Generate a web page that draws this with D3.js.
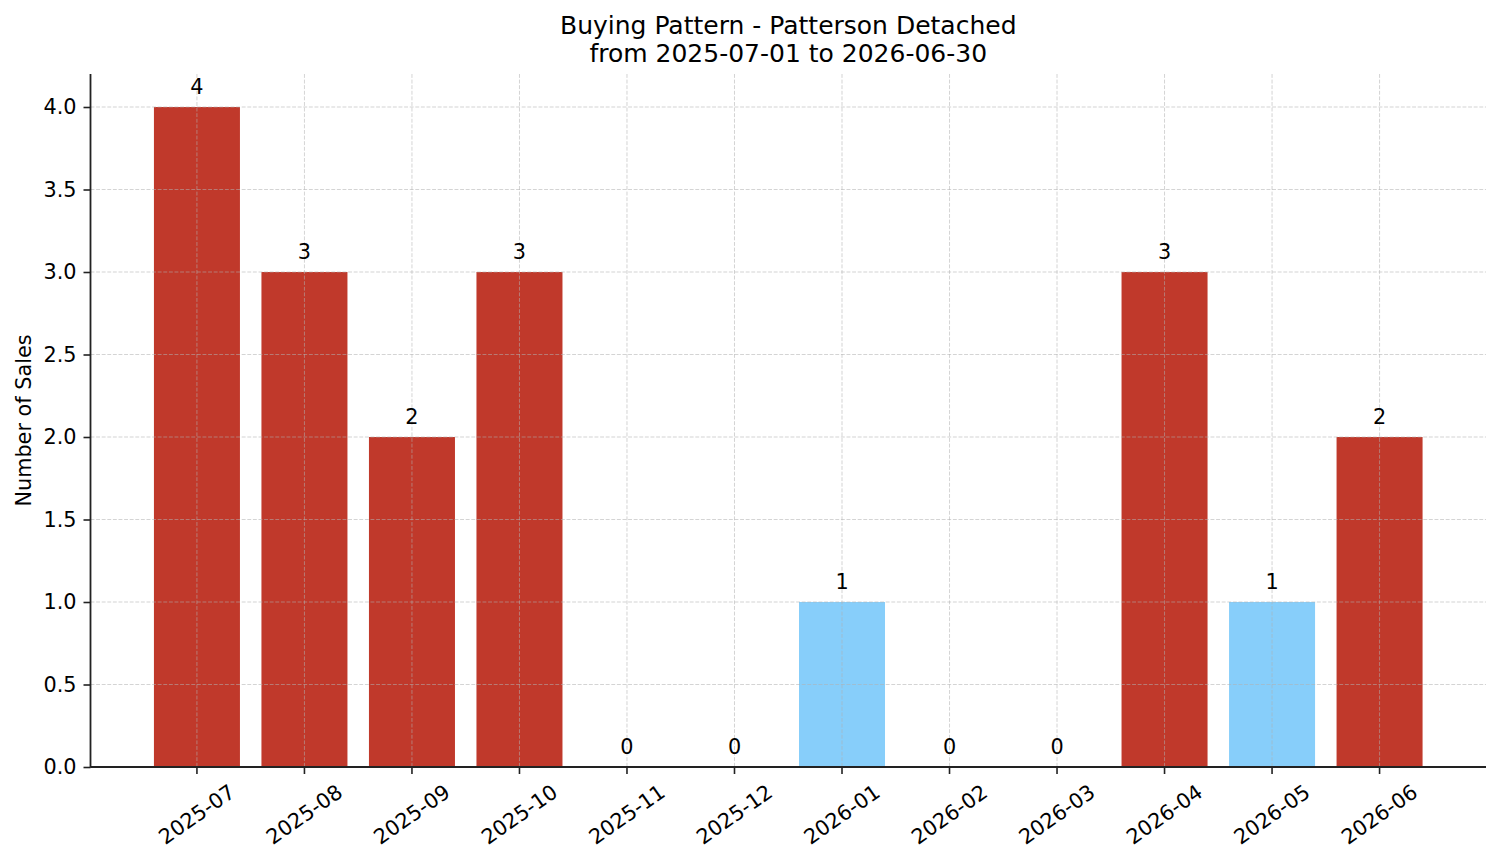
<!DOCTYPE html>
<html>
<head>
<meta charset="utf-8">
<script src="https://cdn.jsdelivr.net/npm/d3@7"></script>
<style>
  body { margin: 0; background: #fff; }
  text { font-family: "DejaVu Sans", sans-serif; fill: #000; }
</style>
</head>
<body>
<div id="chart"></div>
<script>
// chart data
const months = ["2025-07", "2025-08", "2025-09", "2025-10", "2025-11", "2025-12",
                "2026-01", "2026-02", "2026-03", "2026-04", "2026-05", "2026-06"];
const sales = [4, 3, 2, 3, 0, 0, 1, 0, 0, 3, 1, 2];
const yTicks = [0, 0.5, 1, 1.5, 2, 2.5, 3, 3.5, 4];
const titleLines = ["Buying Pattern - Patterson Detached", "from 2025-07-01 to 2026-06-30"];

const width = 1501, height = 863;
const plot = {left: 90.5, right: 1486, top: 74, bottom: 767};

const svg = d3.select("#chart").append("svg")
    .attr("width", width)
    .attr("height", height);

// scales
const xScale = d3.scaleLinear()
    .domain([-0.99, months.length - 1 + 0.99])
    .range([plot.left, plot.right]);
const yScale = d3.scaleLinear()
    .domain([0, 4.2])
    .range([plot.bottom, plot.top]);
const barW = xScale(0.4) - xScale(-0.4);

// bar colour: strong months in red, weak ones in blue
const barColor = v => v >= 2 ? "#c0392b" : "#87cefa";

// bars
svg.append("g").selectAll("rect")
    .data(sales)
    .enter()
    .append("rect")
    .attr("x", (d, i) => xScale(i) - barW / 2)
    .attr("y", d => yScale(d))
    .attr("width", barW)
    .attr("height", d => yScale(0) - yScale(d))
    .attr("fill", barColor);

// grid on top of bars
const grid = svg.append("g")
    .attr("stroke", "#b0b0b0")
    .attr("stroke-opacity", 0.55)
    .attr("stroke-width", 1)
    .attr("stroke-dasharray", "3.9,1.7");
grid.selectAll(".gy")
    .data(yTicks)
    .enter().append("line")
    .attr("x1", plot.left).attr("x2", plot.right)
    .attr("y1", d => yScale(d)).attr("y2", d => yScale(d));
grid.selectAll(".gx")
    .data(months)
    .enter().append("line")
    .attr("x1", (d, i) => xScale(i)).attr("x2", (d, i) => xScale(i))
    .attr("y1", plot.top).attr("y2", plot.bottom);

// y axis
const yAxis = d3.axisLeft(yScale)
    .tickValues(yTicks)
    .tickFormat(d3.format(".1f"))
    .tickSize(7)
    .tickPadding(7);
const gy = svg.append("g")
    .attr("transform", `translate(${plot.left},0)`)
    .call(yAxis);
gy.select(".domain").remove();
gy.selectAll(".tick line").attr("stroke", "#222").attr("stroke-width", 1.6);
gy.selectAll(".tick text")
    .attr("font-size", "20.8px")
    .attr("font-family", "DejaVu Sans")
    .attr("fill", "#000");

// x axis ticks
const gx = svg.append("g");
gx.selectAll("line")
    .data(months)
    .enter().append("line")
    .attr("x1", (d, i) => xScale(i)).attr("x2", (d, i) => xScale(i))
    .attr("y1", plot.bottom).attr("y2", plot.bottom + 7)
    .attr("stroke", "#222").attr("stroke-width", 1.6);
gx.selectAll("text")
    .data(months)
    .enter().append("text")
    .attr("x", (d, i) => xScale(i))
    .attr("y", 814.5)
    .attr("text-anchor", "middle")
    .attr("dominant-baseline", "central")
    .attr("font-size", "20.8px")
    .attr("transform", (d, i) => `rotate(-35,${xScale(i)},814.5)`)
    .text(d => d);

// spines
svg.append("line")
    .attr("x1", plot.left).attr("x2", plot.left)
    .attr("y1", plot.top).attr("y2", plot.bottom + 0.8)
    .attr("stroke", "#222").attr("stroke-width", 1.8);
svg.append("line")
    .attr("x1", plot.left).attr("x2", plot.right)
    .attr("y1", plot.bottom).attr("y2", plot.bottom)
    .attr("stroke", "#222").attr("stroke-width", 1.8);

// value labels
svg.append("g").selectAll("text")
    .data(sales)
    .enter().append("text")
    .attr("x", (d, i) => xScale(i))
    .attr("y", d => yScale(d) - 13)
    .attr("text-anchor", "middle")
    .attr("font-size", "20.8px")
    .text(d => d);

// y label
svg.append("text")
    .attr("transform", `translate(31,${(plot.top + plot.bottom) / 2}) rotate(-90)`)
    .attr("text-anchor", "middle")
    .attr("font-size", "20.8px")
    .text("Number of Sales");

// title
svg.append("g").selectAll("text")
    .data(titleLines)
    .enter().append("text")
    .attr("x", (plot.left + plot.right) / 2)
    .attr("y", (d, i) => 34 + i * 28)
    .attr("text-anchor", "middle")
    .attr("font-size", "25px")
    .text(d => d);
</script>
</body>
</html>
